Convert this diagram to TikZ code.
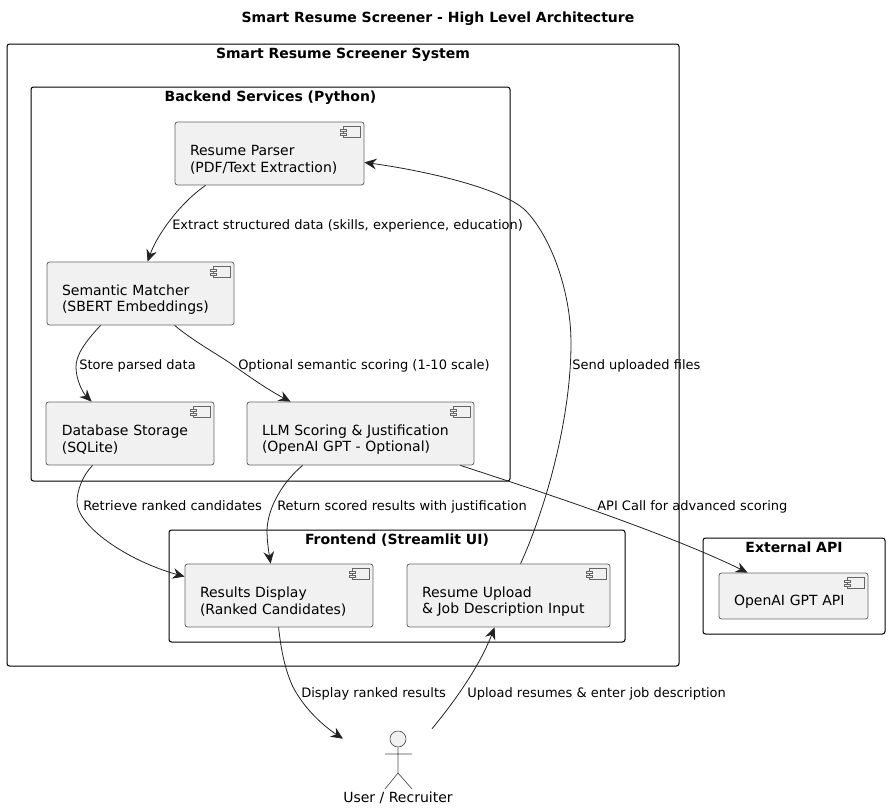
\documentclass[tikz,border=0pt]{standalone}
\usepackage{fontspec}
\setmainfont{DejaVu Sans}
\usetikzlibrary{arrows.meta,calc}
\definecolor{compfill}{HTML}{F1F1F1}
\definecolor{compline}{HTML}{666666}
\definecolor{connline}{HTML}{222222}
\newlength{\pxu}\setlength{\pxu}{0.75pt}
\tikzset{
  x=\pxu,y=-\pxu,
  clusterbox/.style={draw=black,line width=0.75pt,rounded corners=1.9pt,inner sep=0pt},
  clustertitle/.style={font=\fontsize{10.5pt}{12.5pt}\selectfont\bfseries,inner sep=0pt,anchor=center,text height=8pt,text depth=2.2pt},
  compbox/.style={draw=compline,fill=compfill,line width=0.6pt,rounded corners=1.9pt,inner sep=0pt,
    font=\fontsize{10.5pt}{12.3pt}\selectfont,align=left},
  conn/.style={draw=connline,line width=0.6pt,-{Stealth[length=9pt,width=8pt,inset=3pt]}},
  edgelabel/.style={font=\fontsize{9.75pt}{12pt}\selectfont,inner sep=0pt,anchor=west,text height=7.5pt,text depth=2pt},
  iconline/.style={draw=compline,line width=0.5pt},
  actorline/.style={draw=black!70,line width=0.5pt},
}
\newcommand{\clusterat}[6]{% name, x0,y0,x1,y1,title
  \node[clusterbox,minimum width={(#4-#2)*\pxu},minimum height={(#5-#3)*\pxu}] (#1) at ({(#2+#4)/2},{(#3+#5)/2}) {};
  \node[clustertitle] (#1title) at ($(#1.north)+(0,11.5)$) {#6};
}
\newcommand{\compat}[6]{% name, x0,y0,x1,y1,text
  \node[compbox,text width={(#4-#2-30)*\pxu},minimum width={(#4-#2)*\pxu},minimum height={(#5-#3)*\pxu}] (#1) at ({(#2+#4)/2},{(#3+#5)/2}) {#6};
  \draw[iconline,fill=compfill] ($(#1.north east)+(-21,5)$) rectangle ($(#1.north east)+(-4,16)$);
  \draw[iconline,fill=compfill] ($(#1.north east)+(-24,7.5)$) rectangle ($(#1.north east)+(-18,10)$);
  \draw[iconline,fill=compfill] ($(#1.north east)+(-24,11.5)$) rectangle ($(#1.north east)+(-18,14)$);
}
\newcommand{\topgap}{\rule{0pt}{17pt}}
\begin{document}
\begin{tikzpicture}
\useasboundingbox (0,0) rectangle (890,810);
\node[clustertitle] (title) at (438,19) {Smart Resume Screener - High Level Architecture};

\clusterat{system}{7}{44}{679}{666}{Smart Resume Screener System}
\clusterat{backend}{31}{87}{510}{481}{Backend Services (Python)}
\clusterat{frontend}{169}{530}{625}{642}{Frontend (Streamlit UI)}
\clusterat{external}{703}{538}{885}{634}{External API}

\compat{parser}{175}{122}{364}{185}{\topgap Resume Parser\\(PDF/Text Extraction)}
\compat{matcher}{47}{262}{234}{325}{\topgap Semantic Matcher\\(SBERT Embeddings)}
\compat{db}{46}{402}{214}{465}{\topgap\hspace{0.6pt}Database Storage\\\hspace*{0.6pt}(SQLite)}
\compat{llm}{247}{402}{474}{465}{\topgap LLM Scoring \& Justification\\(OpenAI GPT - Optional)}
\compat{results}{185}{564}{373}{627}{\topgap Results Display\\(Ranked Candidates)}
\compat{upload}{407}{564}{610}{627}{\topgap Resume Upload\\\& Job Description Input}
\compat{openai}{719}{573}{868}{619}{\topgap OpenAI GPT API}

% actor
\node[inner sep=0pt,minimum width=66.4pt,minimum height=46.5pt] (user) at (387.5,760) {};
\node[actorline,fill=compfill,circle,inner sep=0pt,minimum size=12pt] (head) at (398,739) {};
\coordinate (hip) at (398,773);
\draw[actorline] (head.south) -- (hip) -- (385,789) (hip) -- (412,789) (385,754) -- (412,754);
\node[inner sep=0pt,font=\fontsize{10.5pt}{12pt}\selectfont] (userlabel) at (398,798) {User / Recruiter};

% connectors
\draw[conn] ($(parser.south west)+(31,0)$) .. controls (180,203) and (157,235) .. ($(matcher.north west)+(101,0)$);
\draw[conn] ($(matcher.south west)+(54,0)$) .. controls (85,342) and (76,355) .. (76,367) .. controls (76,380) and (83,393) .. ($(db.north west)+(46,0)$);
\draw[conn] ($(matcher.south west)+(128,0)$) .. controls (192,340) and (212,351) .. (230,363) .. controls (248,376) and (270,391) .. ($(llm.north west)+(44,0)$);
\draw[conn] ($(upload.north west)+(114,0)$) .. controls (545,510) and (571,420) .. (571,343) .. controls (571,290) and (550,235) .. (525,210) .. controls (500,187) and (420,170) .. ($(parser.south east)+(0,-23)$);
\draw[conn] ($(llm.south west)+(56,0)$) .. controls (285,480) and (268,505) .. (267,530) .. controls (267,542) and (269,553) .. ($(results.north west)+(86,0)$);
\draw[conn] ($(db.south west)+(47,0)$) .. controls (83,475) and (77,490) .. (77,502) .. controls (77,525) and (125,560) .. ($(results.north west)+(0,13)$);
\draw[conn] ($(llm.south east)+(-14,0)$) .. controls (520,485) and (660,530) .. ($(openai.north west)+(29,0)$);
\draw[conn] ($(results.south west)+(94,0)$) .. controls (281,650) and (285,670) .. (293,687) .. controls (305,710) and (325,727) .. ($(user.north west)+(0,10)$);
\draw[conn] (user.north east) .. controls (450,707) and (478,670) .. ($(upload.south west)+(88,0)$);

% labels
\node[edgelabel] (l1) at (172,225.5) {Extract structured data (skills, experience, education)};
\node[edgelabel] (l2) at (79,365.5) {Store parsed data};
\node[edgelabel] (l3) at (238,365.5) {Optional semantic scoring (1-10 scale)};
\node[edgelabel] (l4) at (572,365.5) {Send uploaded files};
\node[edgelabel] (l5) at (83,506.5) {Retrieve ranked candidates};
\node[edgelabel] (l6) at (277,506.5) {Return scored results with justification};
\node[edgelabel] (l7) at (597,506.5) {API Call for advanced scoring};
\node[edgelabel] (l8) at (301,693.5) {Display ranked results};
\node[edgelabel] (l9) at (467,693.5) {Upload resumes \& enter job description};
\end{tikzpicture}
\end{document}
